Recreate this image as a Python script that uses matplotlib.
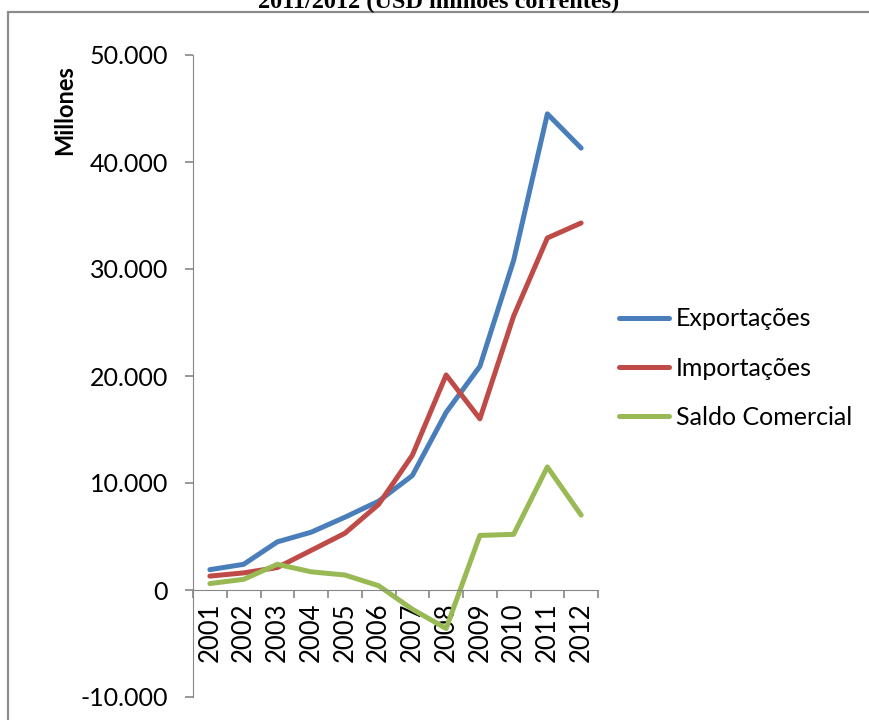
import matplotlib.pyplot as plt
from matplotlib.patches import Rectangle
from matplotlib.ticker import FuncFormatter, FixedLocator

anos = ['2001', '2002', '2003', '2004', '2005', '2006',
        '2007', '2008', '2009', '2010', '2011', '2012']
exportacoes = [1900, 2400, 4500, 5400, 6800, 8300, 10700, 16600, 20900, 30800, 44500, 41300]
importacoes = [1300, 1600, 2100, 3700, 5300, 8000, 12600, 20100, 16000, 25600, 32900, 34300]
saldo = [600, 1000, 2400, 1700, 1400, 400, -1800, -3600, 5100, 5200, 11500, 7000]

plt.rcParams['font.family'] = ['Lato', 'DejaVu Sans']

fig = plt.figure(figsize=(8.69, 7.2), dpi=100)
W, H = 869, 720

# marco exterior del grafico
fig.patches.append(Rectangle((8 / W, -0.05), 1.2, 1 - 12 / H + 0.05, transform=fig.transFigure,
                             fill=False, edgecolor='#8c8c8c', linewidth=1.6))

fig.text(439 / W, 1 - 2 / H, '2011/2012 (USD milhões correntes)', ha='center', va='center',
         family='Liberation Serif', fontweight='bold', fontsize=17.5)

ax = fig.add_axes([193 / W, 1 - 697 / H, (598 - 193) / W, (697 - 55) / H])
x = list(range(1, len(anos) + 1))

ax.plot(x, exportacoes, color='#4a7ebb', linewidth=3.6, solid_capstyle='round', label='Exportações')
ax.plot(x, importacoes, color='#be4b48', linewidth=3.6, solid_capstyle='round', label='Importações')
ax.plot(x, saldo, color='#98b954', linewidth=3.6, solid_capstyle='round', label='Saldo Comercial')

ax.set_xlim(0.5, len(anos) + 0.5)
ax.set_ylim(-10000, 50000)
ax.set_yticks(range(-10000, 50001, 10000))
ax.yaxis.set_major_formatter(FuncFormatter(lambda v, p: f'{int(v):,}'.replace(',', '.')))

for s in ['top', 'right']:
    ax.spines[s].set_visible(False)
ax.spines['left'].set_color('#868686')
ax.spines['bottom'].set_color('#868686')
ax.spines['bottom'].set_position(('data', 0))

ax.set_xticks(x)
ax.set_xticklabels(anos, rotation=90)
ax.xaxis.set_minor_locator(FixedLocator([i + 0.5 for i in range(0, len(anos) + 1)]))
ax.tick_params(axis='x', which='major', length=0, pad=9, labelsize=18.5)
ax.tick_params(axis='x', which='minor', length=6, direction='out', color='#868686', width=1.2)
ax.tick_params(axis='y', length=6, color='#868686', width=1.2, pad=12, labelsize=18)

fig.text(65 / W, 1 - 110 / H, 'Millones', rotation=90, ha='center', va='center',
         fontweight='bold', fontsize=17)

ax.legend(loc='center left', bbox_to_anchor=(596 / W, 1 - 368 / H), bbox_transform=fig.transFigure,
          frameon=False, fontsize=18, handlelength=2.0, handletextpad=0.3, labelspacing=1.05)

fig.savefig('out.png', dpi=100)
